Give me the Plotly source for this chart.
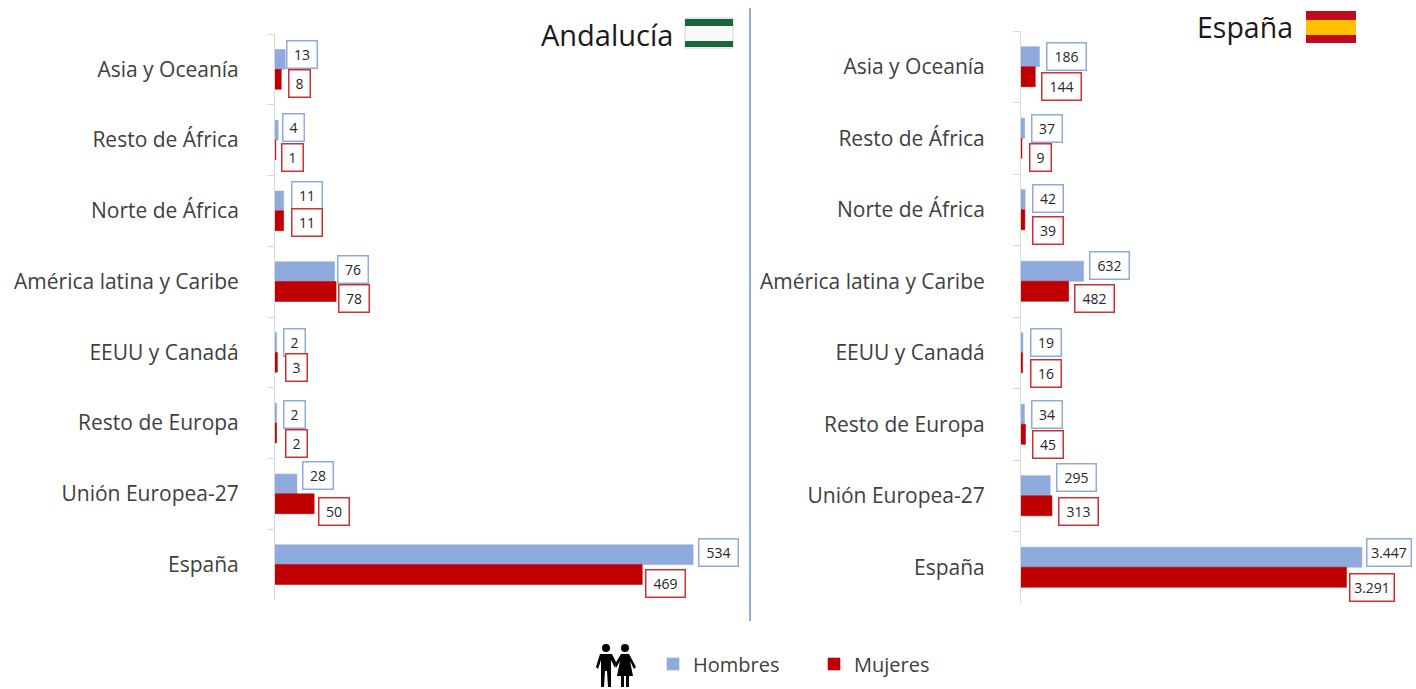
import plotly.graph_objects as go

W, H = 1416, 689
categories = ["Asia y Oceanía", "Resto de África", "Norte de África", "América latina y Caribe",
              "EEUU y Canadá", "Resto de Europa", "Unión Europea-27", "España"]
and_hombres = [13, 4, 11, 76, 2, 2, 28, 534]
and_mujeres = [8, 1, 11, 78, 3, 2, 50, 469]
esp_hombres = [186, 37, 42, 632, 19, 34, 295, 3447]
esp_mujeres = [144, 9, 39, 482, 16, 45, 313, 3291]

BLUE = "#8faadc"
RED = "#c00000"
TXT = "#404040"
FONT = "Open Sans"

# label offsets from bar end (dx) and category centre (dy), pixels
and_h_dx = [1, 4, 7, 2.5, 6.4, 6.4, 5, 5]
and_h_dy = [-15, -13, -15, -12.5, -10, -9, -18, -12]
and_m_dx = [7, 5, 7, 2, 8, 8.4, 4, 3]
and_m_dy = [14, 17, 12, 16.5, 15, 20, 18, 19]
esp_h_dx = [6.6, 6, 7, 5.5, 7, 6.6, 6, 4]
esp_h_dy = [-10, -10, -11, -16, -10, -10, -18, -15]
esp_m_dx = [6, 7, 7, 5, 7.4, 6.5, 6, 2.5]
esp_m_dy = [20, 19, 21, 17, 21, 20, 16, 20]


def px(x):
    return x / W


def py(y):
    return 1 - y / H


fig = go.Figure()
fig.add_bar(y=categories, x=and_hombres, orientation="h", name="Hombres", marker_color=BLUE,
            marker_line=dict(color=BLUE, width=0.6), xaxis="x", yaxis="y", legendgroup="h")
fig.add_bar(y=categories, x=and_mujeres, orientation="h", name="Mujeres", marker_color=RED,
            marker_line=dict(color=RED, width=0.6), xaxis="x", yaxis="y", legendgroup="m")
fig.add_bar(y=categories, x=esp_hombres, orientation="h", name="Hombres", marker_color=BLUE,
            marker_line=dict(color=BLUE, width=0.6), xaxis="x2", yaxis="y2", legendgroup="h", showlegend=False)
fig.add_bar(y=categories, x=esp_mujeres, orientation="h", name="Mujeres", marker_color=RED,
            marker_line=dict(color=RED, width=0.6), xaxis="x2", yaxis="y2", legendgroup="m", showlegend=False)


def box_width(text):
    return {1: 23, 2: 32, 3: 41}.get(len(text), 46)


annotations = []


def add_labels(values, dxs, dys, xref, yref, color):
    for cat, v, dx, dy in zip(categories, values, dxs, dys):
        text = f"{v:,}".replace(",", ".")
        annotations.append(dict(
            x=v, y=cat, xref=xref, yref=yref, text=text, showarrow=False,
            xanchor="left", yanchor="middle", xshift=dx, yshift=-dy,
            width=box_width(text) - 5, height=24, align="center", valign="middle",
            bordercolor=color, borderwidth=1.5, borderpad=1, bgcolor="white",
            font=dict(family=FONT, size=14, color="#262626"),
        ))


add_labels(and_hombres, and_h_dx, and_h_dy, "x", "y", BLUE)
add_labels(and_mujeres, and_m_dx, and_m_dy, "x", "y", "#d03030")
add_labels(esp_hombres, esp_h_dx, esp_h_dy, "x2", "y2", BLUE)
add_labels(esp_mujeres, esp_m_dx, esp_m_dy, "x2", "y2", "#d03030")

annotations.append(dict(x=px(675), y=py(34), xref="paper", yref="paper", text="Andalucía",
                        showarrow=False, xanchor="right", yanchor="middle",
                        font=dict(family=FONT, size=29, color="#1a1a1a")))
annotations.append(dict(x=px(1295), y=py(27), xref="paper", yref="paper", text="España",
                        showarrow=False, xanchor="right", yanchor="middle",
                        font=dict(family=FONT, size=28.5, color="#1a1a1a")))


def rect(x0, y0, x1, y1, fill, line=None):
    return dict(type="rect", xref="paper", yref="paper", x0=px(x0), x1=px(x1), y0=py(y0), y1=py(y1),
                fillcolor=fill, line=dict(width=1 if line else 0, color=line or fill))


def poly(points, fill="black"):
    d = "M" + "L".join(f"{px(a):.5f},{py(b):.5f}" for a, b in points) + "Z"
    return dict(type="path", xref="paper", yref="paper", path=d, fillcolor=fill, line=dict(width=0))


def circle(cx, cy, r, fill="black"):
    return dict(type="circle", xref="paper", yref="paper", x0=px(cx - r), x1=px(cx + r),
                y0=py(cy - r), y1=py(cy + r), fillcolor=fill, line=dict(width=0))


shapes = [
    # divider
    dict(type="line", xref="paper", yref="paper", x0=px(750), x1=px(750), y0=py(8), y1=py(621),
         line=dict(color="#6f93d0", width=1.5)),
    # Andalucía flag
    rect(685, 18, 733, 48, "#f7f9fb", "#c9d6e6"),
    rect(685, 19, 733, 26, "#1a6637"),
    rect(685, 41, 733, 47, "#1a6637"),
    # España flag
    rect(1306, 11, 1356, 43, "#c00a1e"),
    rect(1306, 20, 1356, 35, "#ffc000"),
    # people icon
    circle(606, 648, 4), circle(625, 648, 4),
    poly([(600, 654), (612, 654), (616, 662), (615, 668), (611, 660), (611, 687), (608, 687), (607, 671),
          (605, 671), (604, 687), (601, 687), (601, 660), (598, 669), (596, 667)]),
    poly([(621, 654), (629, 654), (636, 667), (634, 669), (630, 661), (633, 676), (629, 676), (629, 687),
          (626, 687), (626, 676), (624, 676), (624, 687), (621, 687), (621, 676), (617, 676), (620, 661),
          (616, 668), (615, 664)]),
]


def yaxis(domain_top, domain_bottom, anchor):
    return dict(domain=[py(domain_bottom), py(domain_top)], anchor=anchor, type="category",
                categoryorder="array", categoryarray=categories, autorange="reversed",
                tickson="boundaries", ticks="outside", ticklen=7, tickcolor="#d9d9d9", tickwidth=1,
                showline=True, linecolor="#d9d9d9", linewidth=1, showgrid=False,
                ticklabelstandoff=31, tickfont=dict(family=FONT, size=21, color=TXT))


fig.update_layout(
    width=W, height=H, margin=dict(l=0, r=0, t=0, b=0), paper_bgcolor="white", plot_bgcolor="white",
    barmode="group", bargap=0.44, bargroupgap=0,
    xaxis=dict(domain=[px(275), px(275 + 600 * 0.783)], range=[0, 600], visible=False, anchor="y"),
    xaxis2=dict(domain=[px(1021), 1], range=[0, 3994], visible=False, anchor="y2"),
    yaxis=yaxis(34, 600, "x"),
    yaxis2=yaxis(31, 603, "x2"),
    showlegend=True,
    legend=dict(orientation="h", x=px(653), y=py(664), xanchor="left", yanchor="middle",
                font=dict(family=FONT, size=20, color=TXT), bgcolor="rgba(0,0,0,0)",
                entrywidth=116, entrywidthmode="pixels", itemclick=False, itemdoubleclick=False),
    annotations=annotations,
    shapes=shapes,
)

fig.write_html("out.html", config=dict(displayModeBar=False),
               post_script="document.body.style.margin='0';document.documentElement.style.overflow='hidden';")
